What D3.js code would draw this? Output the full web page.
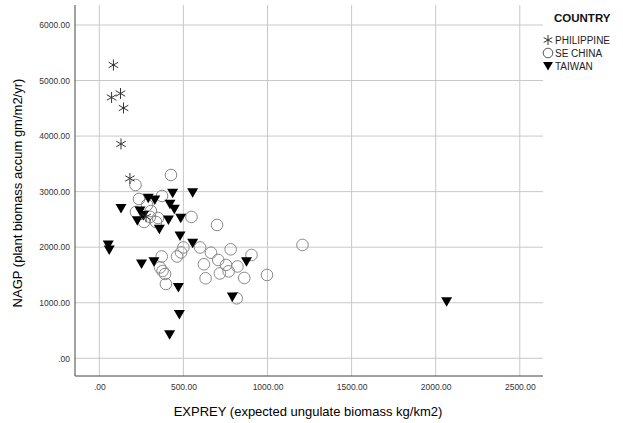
<!DOCTYPE html>
<html><head><meta charset="utf-8">
<script src="https://cdn.jsdelivr.net/npm/d3@7"></script>
<style>body{margin:0;background:#fff;} svg{display:block;font-family:"Liberation Sans",Arial,sans-serif;}</style>
</head><body>
<svg id="c" width="623" height="423"></svg>
<script>
const xTicks = [0, 500, 1000, 1500, 2000, 2500];
const yTicks = [0, 1000, 2000, 3000, 4000, 5000, 6000];
const categories = ["PHILIPPINE", "SE CHINA", "TAIWAN"];
const philippineX = [84, 73, 126, 144, 129, 182, 278];
const philippineY = [5280, 4695, 4767, 4506, 3858, 3237, 2546];
const chinaX = [426, 215, 236, 373, 218, 266, 307, 349, 337, 548, 700, 1208, 500, 486, 462, 371, 599, 664, 781, 905, 707, 622, 753, 821, 717, 769, 632, 862, 997, 361, 376, 391, 396, 817, 301, 284];
const chinaY = [3300, 3120, 2868, 2922, 2634, 2454, 2652, 2526, 2454, 2544, 2400, 2040, 1995, 1905, 1833, 1833, 1995, 1901, 1962, 1860, 1770, 1692, 1680, 1653, 1527, 1566, 1440, 1446, 1500, 1635, 1572, 1518, 1338, 1080, 2546, 2760];
const taiwanX = [129, 291, 330, 436, 555, 242, 226, 262, 420, 446, 357, 411, 484, 480, 555, 53, 59, 251, 325, 470, 875, 791, 476, 418, 2065];
const taiwanY = [2697, 2880, 2850, 2970, 2981, 2652, 2477, 2571, 2772, 2682, 2322, 2490, 2520, 2202, 2070, 2040, 1950, 1698, 1739, 1275, 1739, 1104, 788, 425, 1019];

const svg = d3.select("#c");
const L = 75, R = 543, T = 5, B = 376;
const x = d3.scaleLinear().domain([-144.5, 2638]).range([L, R]);
const y = d3.scaleLinear().domain([-319, 6360]).range([B, T]);
const fmt = d => d === 0 ? ".00" : d.toFixed(2);

// grid
svg.append("g").selectAll("line").data(xTicks).join("line")
  .attr("x1", d => x(d)).attr("x2", d => x(d)).attr("y1", T).attr("y2", B)
  .attr("stroke", "#c8c8c8").attr("stroke-width", 1);
svg.append("g").selectAll("line").data(yTicks).join("line")
  .attr("x1", L).attr("x2", R).attr("y1", d => y(d)).attr("y2", d => y(d))
  .attr("stroke", "#c8c8c8").attr("stroke-width", 1);

// axes
const gx = svg.append("g").attr("transform", `translate(0,${B})`)
  .call(d3.axisBottom(x).tickValues(xTicks).tickFormat(fmt).tickSize(0).tickPadding(8));
gx.select(".domain").remove();
gx.selectAll("text").attr("font-size", 8.5).attr("fill", "#333").attr("font-family", "Liberation Sans, Arial, sans-serif");
const gy = svg.append("g").attr("transform", `translate(${L},0)`)
  .call(d3.axisLeft(y).tickValues(yTicks).tickFormat(fmt).tickSize(0).tickPadding(5));
gy.select(".domain").remove();
gy.selectAll("text").attr("font-size", 8.5).attr("fill", "#333").attr("font-family", "Liberation Sans, Arial, sans-serif");

svg.append("line").attr("x1", L).attr("x2", L).attr("y1", T).attr("y2", B).attr("stroke", "#444");
svg.append("line").attr("x1", L).attr("x2", R).attr("y1", B).attr("y2", B).attr("stroke", "#444");

// titles
svg.append("text").attr("x", 308).attr("y", 416).attr("text-anchor", "middle")
  .attr("font-size", 13).attr("fill", "#000").text("EXPREY (expected ungulate biomass kg/km2)");
svg.append("text").attr("transform", "translate(22,193) rotate(-90)").attr("text-anchor", "middle")
  .attr("font-size", 13).attr("fill", "#000").text("NAGP (plant biomass accum gm/m2/yr)");

// marker shapes
function starPath(r) {
  let p = "";
  for (let i = 0; i < 3; i++) {
    const a = Math.PI / 2 + i * Math.PI / 3;
    p += `M${r * Math.cos(a)},${-r * Math.sin(a)}L${-r * Math.cos(a)},${r * Math.sin(a)}`;
  }
  return p;
}
const triPath = "M-5.5,-4.5L5.5,-4.5L0,5Z";

const china = chinaX.map((v, i) => ({x: v, y: chinaY[i]}));
const phil = philippineX.map((v, i) => ({x: v, y: philippineY[i]}));
const tai = taiwanX.map((v, i) => ({x: v, y: taiwanY[i]}));

svg.append("g").selectAll("circle").data(china).join("circle")
  .attr("cx", d => x(d.x)).attr("cy", d => y(d.y)).attr("r", 5.8)
  .attr("fill", "none").attr("stroke", "#8a8a8a").attr("stroke-width", 1);
svg.append("g").selectAll("path").data(tai).join("path")
  .attr("transform", d => `translate(${x(d.x)},${y(d.y)})`).attr("d", triPath).attr("fill", "#000");
svg.append("g").selectAll("path").data(phil).join("path")
  .attr("transform", d => `translate(${x(d.x)},${y(d.y)})`).attr("d", starPath(5.5))
  .attr("fill", "none").attr("stroke", "#333").attr("stroke-width", 1);

// legend
svg.append("text").attr("x", 554).attr("y", 22).attr("font-size", 11.5).attr("font-weight", "bold")
  .attr("fill", "#111").text("COUNTRY");
const lg = svg.append("g");
const ly = [40, 53, 66];
lg.append("path").attr("transform", `translate(548,${ly[0]})`).attr("d", starPath(5))
  .attr("fill", "none").attr("stroke", "#333");
lg.append("circle").attr("cx", 548).attr("cy", ly[1]).attr("r", 4.8).attr("fill", "none").attr("stroke", "#555");
lg.append("path").attr("transform", `translate(548,${ly[2]}) scale(0.9)`).attr("d", triPath).attr("fill", "#000");
lg.selectAll("text.l").data(categories).join("text").attr("class", "l")
  .attr("x", 555).attr("y", (d, i) => ly[i] + 3.5).attr("font-size", 10).attr("fill", "#222").text(d => d);
</script>
</body></html>
